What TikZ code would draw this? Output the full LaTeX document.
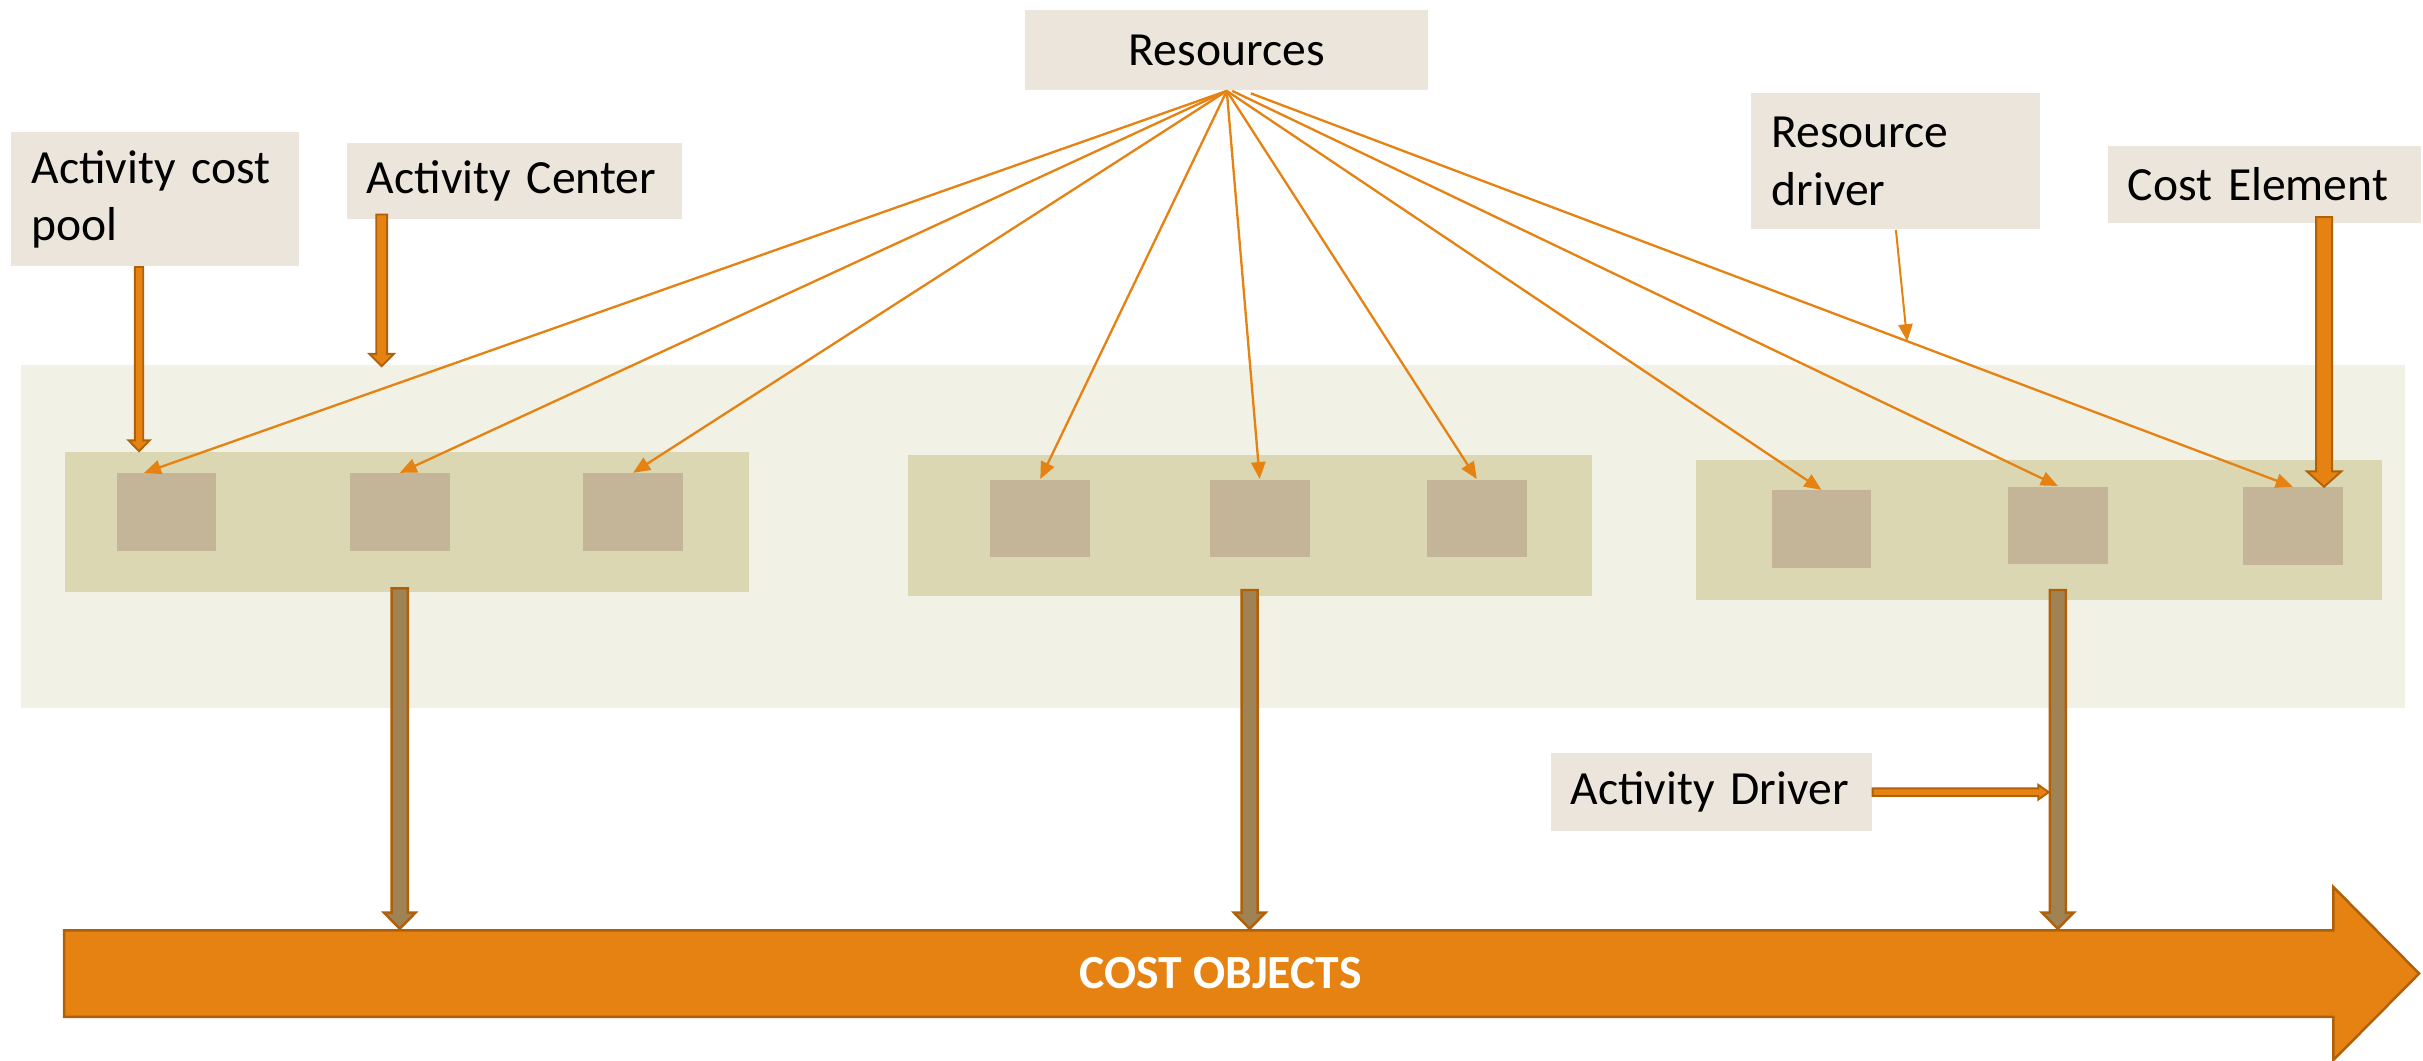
\documentclass[tikz,border=0pt]{standalone}
\usepackage{fontspec}
\setmainfont{Carlito}
\usetikzlibrary{arrows.meta,calc}

\definecolor{lblfill}{HTML}{EBE5DB}
\definecolor{panelfill}{HTML}{F1F1E6}
\definecolor{groupfill}{HTML}{DAD7B2}
\definecolor{cellfill}{HTML}{C4B598}
\definecolor{orangeA}{HTML}{E58212}
\definecolor{orangeD}{HTML}{B06008}
\definecolor{brownA}{HTML}{A08355}

% vertical block arrow: start, end, half shaft, half head, head length, style
\newcommand{\dnblock}[6]{%
  \filldraw[#6] let \p1=(#1), \p2=(#2) in
    (\x1-#3,\y1) -- (\x1-#3,\y2+#5) -- (\x1-#4,\y2+#5) -- (\x1,\y2)
    -- (\x1+#4,\y2+#5) -- (\x1+#3,\y2+#5) -- (\x1+#3,\y1) -- cycle;}
% horizontal block arrow pointing right
\newcommand{\rtblock}[6]{%
  \filldraw[#6] let \p1=(#1), \p2=(#2) in
    (\x1,\y1+#3) -- (\x2-#5,\y1+#3) -- (\x2-#5,\y1+#4) -- (\x2,\y1)
    -- (\x2-#5,\y1-#4) -- (\x2-#5,\y1-#3) -- (\x1,\y1-#3) -- cycle;}

\tikzset{
  lbl/.style={fill=lblfill, anchor=north west, inner xsep=6.5pt, inner ysep=0pt,
    align=left, text=black, font=\fontsize{15.4}{18.5}\selectfont},
  cell/.style={fill=cellfill, anchor=north west, inner sep=0pt,
    minimum width=32.3pt, minimum height=25pt},
  grp/.style={fill=groupfill, anchor=north west, inner sep=0pt},
  feed/.style={draw=orangeA, line width=0.75pt, -{Triangle[length=5.5pt,width=4.6pt]}},
  orangeblock/.style={fill=orangeA, draw=orangeD, line width=0.6pt},
  brownblock/.style={fill=brownA, draw=orangeD, line width=0.8pt},
}

\begin{document}
\begin{tikzpicture}[x=0.5pt,y=-0.5pt]
\useasboundingbox (0,0) rectangle (1568,686.6);

% activity area and the three activity centres
\node[fill=panelfill, anchor=north west, inner sep=0pt,
      minimum width=771.5pt, minimum height=111.25pt] (area) at (13,235.5) {};
\node[grp, minimum width=221.3pt, minimum height=45.5pt] (g1) at (41.4,292) {};
\node[grp, minimum width=221.5pt, minimum height=45.5pt] (g2) at (587,294) {};
\node[grp, minimum width=222pt, minimum height=45.5pt] (g3) at (1097,297) {};

% activity cost pools
\node[cell] (s11) at (75,306) {};
\node[cell] (s12) at (226,306) {};
\node[cell] (s13) at (377,306) {};
\node[cell] (s21) at (640.5,310) {};
\node[cell] (s22) at (782.5,310) {};
\node[cell] (s23) at (923,310) {};
\node[cell] (s31) at (1146,317) {};
\node[cell] (s32) at (1299,314.5) {};
\node[cell] (s33) at (1451,315) {};

% labels
\node[lbl, text width=80pt, minimum height=43.5pt] (acp) at (7,85) {Activity cost\\pool};
\node[lbl, text width=95.5pt, minimum height=24.5pt] (ac) at (224,92) {Activity Center};
\node[lbl, align=center, text width=117.5pt, minimum height=26pt] (res) at (663,6) {Resources};
\node[lbl, text width=80.5pt, minimum height=44pt] (rd) at (1133,60) {Resource\\driver};
\node[lbl, text width=88.25pt, minimum height=25pt] (ce) at (1363.5,94) {Cost Element};
\node[lbl, text width=91pt, minimum height=25.25pt] (ad) at (1003,487) {Activity Driver};

% cost objects arrow
\filldraw[fill=orangeA, draw=orangeD, line width=0.8pt]
  (41.5,602) -- (1510,602) -- (1510,574) -- (1565.5,630) -- (1510,686)
  -- (1510,658) -- (41.5,658) -- cycle;
\node[text=white, font=\fontsize{15.4}{18}\selectfont\bfseries] (co) at (790,630) {COST OBJECTS};
\coordinate (cotop) at (41.5,601);

% resource assignment lines
\coordinate (r1) at (res.south);
\coordinate (r2) at ($(res.south)+(3.5,0)$);
\coordinate (r3) at ($(res.south)+(15.5,1.6)$);
\draw[feed] (r1) -- ($(s11.north)+(-14.5,0)$);
\draw[feed] (r1) -- (s12.north);
\draw[feed] (r1) -- (s13.north);
\draw[feed] (r1) -- (s21.north);
\draw[feed] (r1) -- (s22.north);
\draw[feed] (r1) -- (s23.north);
\draw[feed] (r1) -- (s31.north);
\draw[feed] (r2) -- (s32.north);
\draw[feed] (r3) -- (s33.north);
\path (r3) -- (s33.north) coordinate[pos=0.63] (rdhit);
\draw[feed, line width=0.65pt] (rd.south) -- (rdhit);

% pointer arrows from the labels
\coordinate (acpA) at ($(acp.south west)+(83,0)$);
\dnblock{acpA}{acpA |- g1.north}{1.35pt}{3.4pt}{3.5pt}{orangeblock}
\coordinate (acA) at ($(ac.south west)+(23,-3)$);
\dnblock{acA}{$(acA |- area.north)+(0,1.5)$}{1.75pt}{4pt}{4pt}{orangeblock}
\coordinate (ceA) at ($(ce.south west)+(140.5,-4.4)$);
\dnblock{ceA}{ceA |- s33.north}{2.6pt}{5.6pt}{5pt}{orangeblock}
\rtblock{ad.east}{$(ad.east)+(114,0)$}{1.25pt}{2.4pt}{3.4pt}{orangeblock}

% activity centres feeding the cost objects
\coordinate (b1) at ($(s12.center |- g1.south)+(0,-3)$);
\coordinate (b2) at ($(s22.center |- g2.south)+(-6.5,-4)$);
\coordinate (b3) at ($(s32.center |- g3.south)+(0,-7)$);
\dnblock{b1}{b1 |- cotop}{2.6pt}{5.1pt}{5.2pt}{brownblock}
\dnblock{b2}{b2 |- cotop}{2.6pt}{5.1pt}{5.2pt}{brownblock}
\dnblock{b3}{b3 |- cotop}{2.6pt}{5.1pt}{5.2pt}{brownblock}
\end{tikzpicture}
\end{document}
